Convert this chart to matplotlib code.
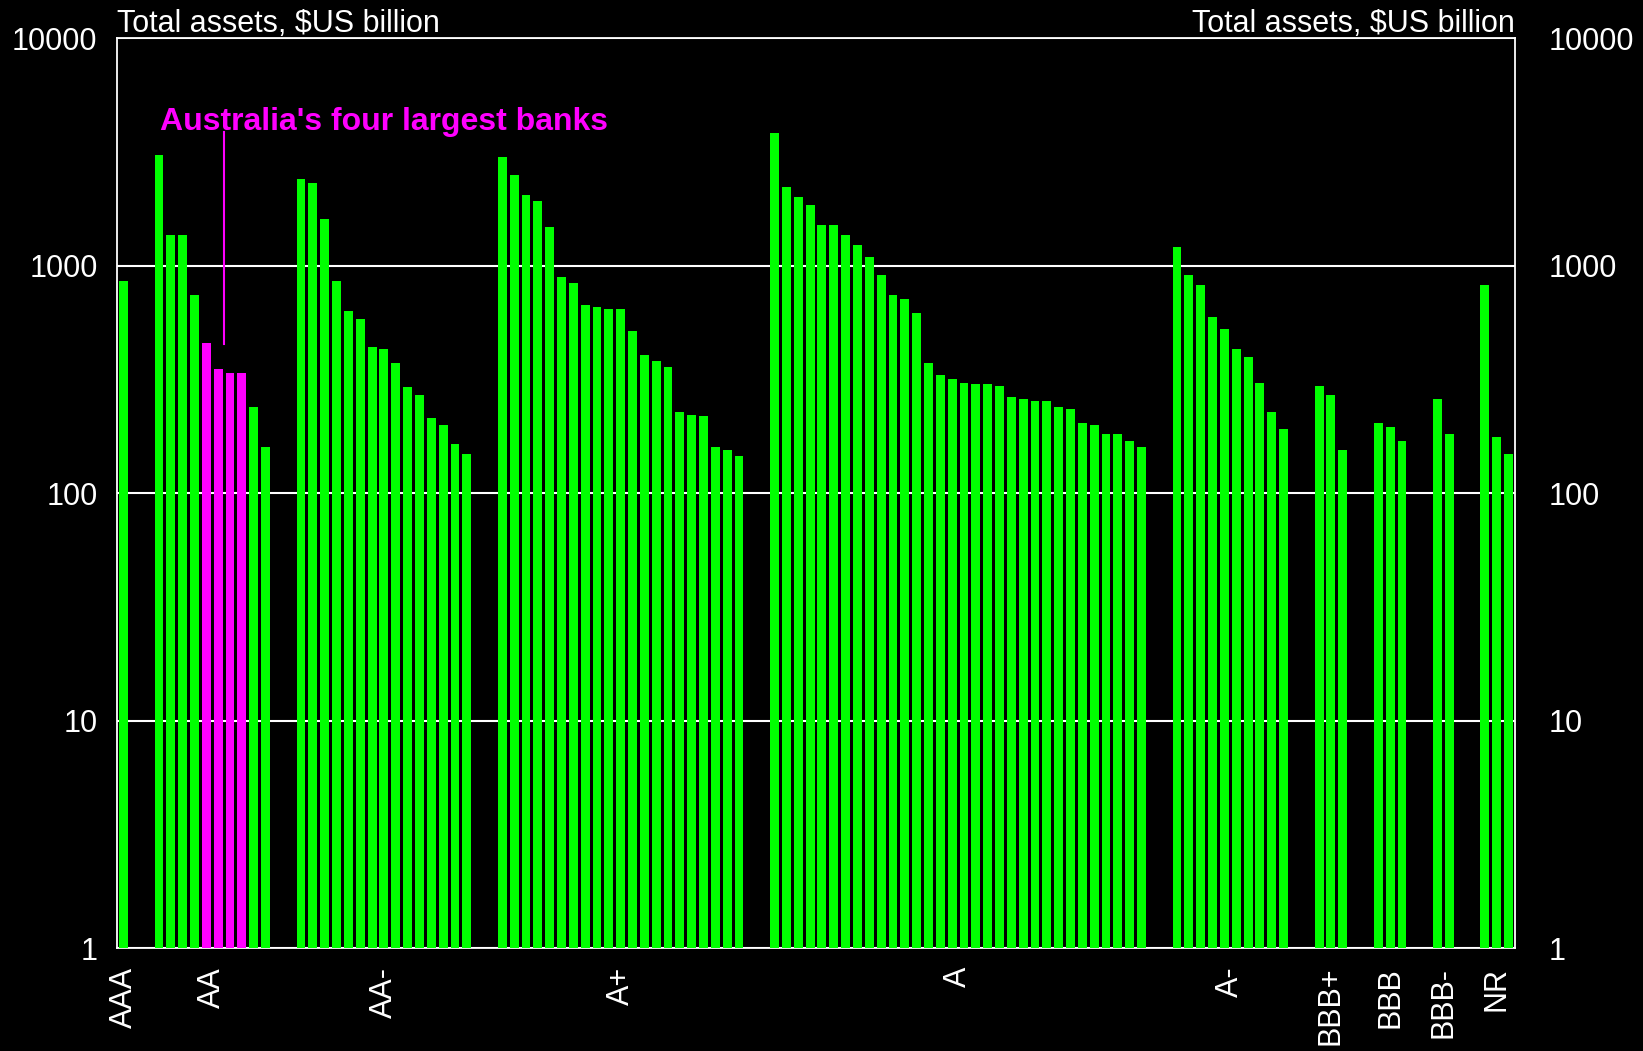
import matplotlib.pyplot as plt
import matplotlib.ticker as mticker
import numpy as np

plt.rcParams['font.family'] = ['Liberation Sans', 'DejaVu Sans']

# ------------------------------------------------------------
# Données : actif total ($US milliards) par notation
# ------------------------------------------------------------
RATINGS = ['AAA', 'AA', 'AA-', 'A+', 'A', 'A-', 'BBB+', 'BBB', 'BBB-', 'NR']

AAA  = [855]
AA   = [3060, 1362, 1362, 741, 456, 351, 337, 337, 239, 159]
AA_M = [2400, 2305, 1600, 855, 631, 582, 438, 430, 373, 292, 270, 212, 199, 163, 147]
A_P  = [2999, 2500, 2042, 1922, 1477, 889, 838, 670, 656, 644, 644, 515, 404, 381,
        358, 225, 220, 216, 159, 153, 144]
A    = [3818, 2213, 2000, 1845, 1507, 1507, 1362, 1231, 1090, 908, 741, 712, 618,
        373, 330, 317, 305, 299, 299, 293, 264, 259, 254, 254, 239, 234, 203, 199,
        180, 180, 169, 159]
A_M  = [1206, 908, 821, 594, 526, 430, 396, 305, 225, 191]
BBB_P = [293, 270, 153]
BBB   = [203, 195, 169]
BBB_M = [259, 180]
NR    = [821, 176, 147]

GROUPS = [AAA, AA, AA_M, A_P, A, A_M, BBB_P, BBB, BBB_M, NR]

# Les quatre grandes banques australiennes (indices dans le groupe AA)
BIG4_IDX = [4, 5, 6, 7]

GREEN   = '#00FF00'
MAGENTA = '#FF00FF'
GAP = 2

# ------------------------------------------------------------
# Positions des barres
# ------------------------------------------------------------
xs, vals, cols, centers = [], [], [], []
pos = 0
for g, grp in enumerate(GROUPS):
    start = pos
    for i, v in enumerate(grp):
        xs.append(pos)
        vals.append(v)
        cols.append(MAGENTA if (g == 1 and i in BIG4_IDX) else GREEN)
        pos += 1
    centers.append((start + pos - 1) / 2)
    pos += GAP
n_slots = pos - GAP

big4_x = np.mean([xs[len(AAA) + i] for i in BIG4_IDX])

# ------------------------------------------------------------
# Figure
# ------------------------------------------------------------
fig = plt.figure(figsize=(16.43, 10.51), dpi=100, facecolor='black')
ax = fig.add_axes([0.0712, 0.098, 0.8509, 0.8658], facecolor='black')

ax.bar(xs, vals, width=0.75, color=cols, bottom=1, zorder=3)

ax.set_yscale('log')
ax.set_ylim(1, 10000)
ax.set_xlim(-0.55, n_slots - 0.45)

yt = [1, 10, 100, 1000, 10000]
ax.yaxis.set_major_locator(mticker.FixedLocator(yt))
ax.yaxis.set_minor_locator(mticker.NullLocator())
ax.set_yticklabels([str(v) for v in yt])
ax.yaxis.grid(True, color='white', lw=1.5, zorder=1)
ax.set_axisbelow(True)

ax.set_xticks(centers)
ax.set_xticklabels(RATINGS, rotation=90, color='white', fontsize=22)
ax.tick_params(axis='x', length=0, pad=13.5)
ax.tick_params(axis='y', length=0, pad=14, colors='white', labelsize=22)

for s in ax.spines.values():
    s.set_color('white')
    s.set_linewidth(1.3)

# Axe de droite
ax_r = ax.twinx()
ax_r.set_yscale('log')
ax_r.set_ylim(1, 10000)
ax_r.yaxis.set_major_locator(mticker.FixedLocator(yt))
ax_r.yaxis.set_minor_locator(mticker.NullLocator())
ax_r.set_yticklabels([str(v) for v in yt])
ax_r.tick_params(axis='y', length=0, pad=24, colors='white', labelsize=22)
for s in ax_r.spines.values():
    s.set_visible(False)

# Titres d'axes
ax.text(0, 1.007, 'Total assets, $US billion', transform=ax.transAxes,
        ha='left', va='baseline', color='white', fontsize=22)
ax.text(1, 1.007, 'Total assets, $US billion', transform=ax.transAxes,
        ha='right', va='baseline', color='white', fontsize=22)

# Annotation
ax.plot([big4_x, big4_x], [452, 3846], color=MAGENTA, lw=1.5, zorder=4)
ax.text(3.05, 3950, "Australia's four largest banks", color=MAGENTA,
        fontsize=23, fontweight='bold', ha='left', va='baseline', zorder=4)

plt.savefig('out.png', dpi=100, facecolor='black')
